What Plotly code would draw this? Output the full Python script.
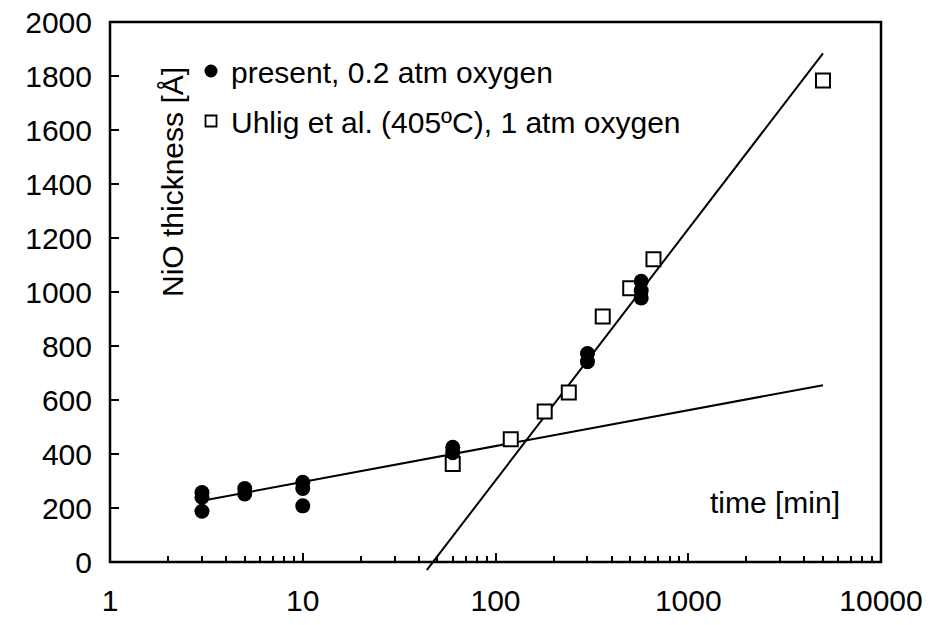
import plotly.graph_objects as go

# ---- data ----
present_t = [3, 3, 3, 5, 5, 10, 10, 10, 60, 60, 300, 300, 570, 570, 570]
present_y = [257, 240, 188, 272, 252, 295, 272, 208, 425, 405, 772, 742, 1040, 1005, 978]

uhlig_t = [60, 120, 180, 240, 360, 500, 660, 5000]
uhlig_y = [363, 455, 557, 628, 909, 1014, 1121, 1783]

fit_low_t = [3, 5000]
fit_low_y = [227, 655]
fit_high_t = [44, 5000]
fit_high_y = [-30, 1884]

x_tickvals = [1, 10, 100, 1000, 10000]
x_ticktext = ["1", "10", "100", "1000", "10000"]
y_tickvals = [0, 200, 400, 600, 800, 1000, 1200, 1400, 1600, 1800, 2000]

legend_present = "present, 0.2 atm oxygen"
legend_uhlig = "Uhlig et al. (405ºC), 1 atm oxygen"

FONT = "Liberation Sans, Arial, sans-serif"
FS = 30

fig = go.Figure()

# legend-only traces on the visible axes
fig.add_trace(go.Scatter(x=[None], y=[None], mode="markers", name=legend_present,
                         marker=dict(symbol="circle", size=13, color="black"),
                         legendgroup="a", xaxis="x", yaxis="y"))
fig.add_trace(go.Scatter(x=[None], y=[None], mode="markers", name=legend_uhlig,
                         marker=dict(symbol="square", size=11, color="white",
                                     line=dict(color="black", width=1.8)),
                         legendgroup="b", xaxis="x", yaxis="y"))

# fit lines (on a subplot whose domain reaches a little below y=0)
fig.add_trace(go.Scatter(x=fit_low_t, y=fit_low_y, mode="lines", showlegend=False,
                         line=dict(color="black", width=2), xaxis="x2", yaxis="y2"))
fig.add_trace(go.Scatter(x=fit_high_t, y=fit_high_y, mode="lines", showlegend=False,
                         line=dict(color="black", width=2), xaxis="x2", yaxis="y2"))

# data
fig.add_trace(go.Scatter(x=uhlig_t, y=uhlig_y, mode="markers", showlegend=False,
                         marker=dict(symbol="square", size=14, color="white",
                                     line=dict(color="black", width=2)),
                         xaxis="x2", yaxis="y2", cliponaxis=False))
fig.add_trace(go.Scatter(x=present_t, y=present_y, mode="markers", showlegend=False,
                         marker=dict(symbol="circle", size=15, color="black"),
                         xaxis="x2", yaxis="y2", cliponaxis=False))

H_PLOT = 550
EXT = 10  # px below y=0
dom0 = EXT / H_PLOT
y2_low = -2000 * EXT / (H_PLOT - EXT)

axis_common = dict(showgrid=False, zeroline=False, showline=False,
                   tickcolor="black", tickwidth=2,
                   automargin=False, ticklabeloverflow="allow",
                   tickfont=dict(family=FONT, size=FS, color="black"))

minor_vals = [k * 10 ** d for d in range(0, 4) for k in range(2, 10)]

fig.update_layout(
    width=930, height=625,
    margin=dict(l=110, r=49, t=22, b=53),
    paper_bgcolor="white", plot_bgcolor="rgba(0,0,0,0)",
    font=dict(family=FONT, size=FS, color="black"),
    xaxis=dict(type="log", range=[0, 4], domain=[0, 1], anchor="y",
               tickvals=x_tickvals, ticktext=x_ticktext,
               ticks="inside", ticklen=9, ticklabelstandoff=18,
               minor=dict(tickvals=minor_vals, ticks="inside", ticklen=6,
                          tickwidth=1.5, tickcolor="black", showgrid=False),
               **axis_common),
    yaxis=dict(range=[0, 2000], domain=[dom0, 1], anchor="x",
               tickvals=y_tickvals, ticks="inside", ticklen=9,
               ticklabelstandoff=17, **axis_common),
    xaxis2=dict(type="log", range=[0, 4], domain=[0, 1], anchor="y2",
                visible=False, showgrid=False, zeroline=False),
    yaxis2=dict(range=[y2_low, 2000], domain=[0, 1], anchor="x2",
                visible=False, showgrid=False, zeroline=False),
    legend=dict(x=(191 - 110) / 771, y=(572 - 45) / H_PLOT, xanchor="left", yanchor="top",
                font=dict(family=FONT, size=FS, color="black"),
                bgcolor="rgba(0,0,0,0)", tracegroupgap=8, itemwidth=30),
    shapes=[
        dict(type="rect", xref="paper", yref="paper", x0=0, x1=1, y0=dom0, y1=1,
             line=dict(color="black", width=2.5), fillcolor="rgba(0,0,0,0)", layer="above"),
    ],
    annotations=[
        dict(text="NiO thickness [Å]", xref="paper", yref="paper",
             x=(172 - 110) / 771, y=(572 - 182) / H_PLOT, textangle=-90,
             showarrow=False, xanchor="center", yanchor="middle",
             font=dict(family=FONT, size=FS, color="black")),
        dict(text="time [min]", xref="paper", yref="paper",
             x=(775 - 110) / 771, y=(572 - 502) / H_PLOT,
             showarrow=False, xanchor="center", yanchor="middle",
             font=dict(family=FONT, size=FS, color="black")),
    ],
)

fig.write_html("out.html", config={"displayModeBar": False},
               post_script="document.body.style.margin='0';document.body.style.overflow='hidden';")
